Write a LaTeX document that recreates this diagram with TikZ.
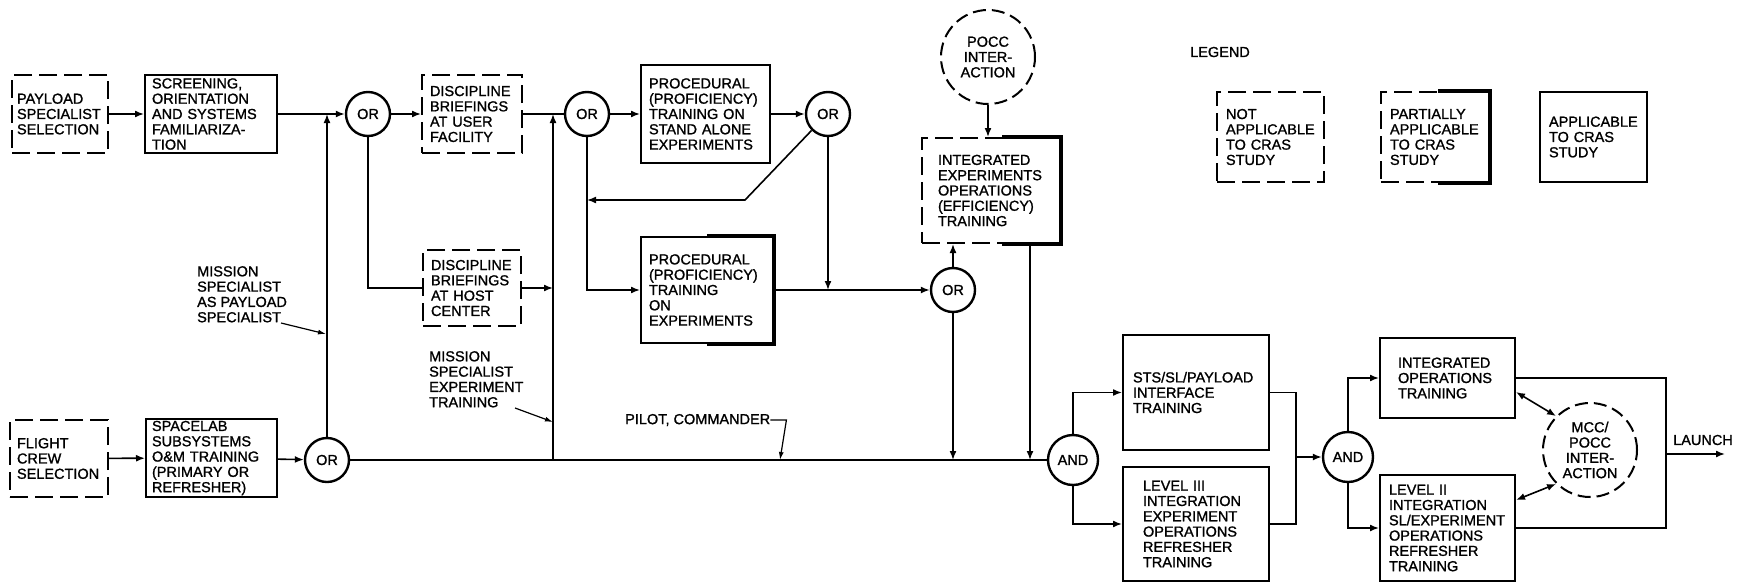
\documentclass[tikz,border=0pt]{standalone}
\usepackage{fontspec}
\setmainfont{Liberation Sans}[FakeBold=1.2]
\usetikzlibrary{arrows.meta, calc}
\newcommand{\boxfont}{\fontsize{14.5}{15.3}\selectfont}

\begin{document}
\begin{tikzpicture}[x=1pt, y=-1pt,
  every node/.style={font=\boxfont},
  solidbox/.style={draw, line width=2pt, align=left, inner ysep=1pt},
  dashbox/.style={solidbox, dash pattern=on 18pt off 7pt},
  gate/.style={circle, draw, line width=2.4pt, inner sep=0pt, minimum size=44pt},
  dashring/.style={circle, draw, line width=2pt, dash pattern=on 13pt off 6pt, inner sep=0pt, minimum size=94pt, align=center},
  heavy/.style={line width=4.5pt},
  line/.style={line width=1.6pt},
  flow/.style={line, -{Latex[length=9pt, width=7pt]}},
  dflow/.style={line, {Latex[length=9pt, width=7pt]}-{Latex[length=9pt, width=7pt]}},
  lead/.style={line width=1.2pt, -{Latex[length=8pt, width=5pt]}},
  lbl/.style={align=left, inner sep=0pt}
]
  \useasboundingbox (0,0) rectangle (1749,584);

  % top row
  \node[dashbox, text width=86pt, inner xsep=5pt, minimum height=78pt] (payload) at (60,114) {PAYLOAD\\SPECIALIST\\SELECTION};
  \node[solidbox, text width=118pt, inner xsep=7pt, minimum height=78pt] (screening) at (211,114) {SCREENING,\\ORIENTATION\\AND SYSTEMS\\FAMILIARIZA-\\TION};
  \node[gate] (or1) at (368,114) {OR};
  \node[dashbox, text width=84pt, inner xsep=8pt, minimum height=78pt] (discuser) at (472,114) {DISCIPLINE\\BRIEFINGS\\AT USER\\FACILITY};
  \node[gate] (or2) at (587,114) {OR};
  \node[solidbox, text width=113pt, inner xsep=8pt, minimum height=98pt] (procstand) at (705.5,114) {PROCEDURAL\\(PROFICIENCY)\\TRAINING ON\\STAND ALONE\\EXPERIMENTS};
  \node[gate] (or3) at (828,114) {OR};
  \node[dashring] (pocc) at (988,57) {POCC\\INTER-\\ACTION};
  \node[dashbox, text width=106pt, inner xsep=16pt, minimum height=105pt] (intexp) at (991,190.5) {INTEGRATED\\EXPERIMENTS\\OPERATIONS\\(EFFICIENCY)\\TRAINING};

  % middle row
  \node[dashbox, text width=82pt, inner xsep=8pt, minimum height=76pt] (dischost) at (472,288) {DISCIPLINE\\BRIEFINGS\\AT HOST\\CENTER};
  \node[solidbox, text width=116pt, inner xsep=8pt, minimum height=106pt] (procexp) at (707,290) {PROCEDURAL\\(PROFICIENCY)\\TRAINING\\ON\\EXPERIMENTS};
  \node[gate] (or4) at (953,290) {OR};

  % bottom row
  \node[dashbox, text width=84pt, inner xsep=7pt, minimum height=77pt] (flight) at (59,458.5) {FLIGHT\\CREW\\SELECTION};
  \node[solidbox, text width=119pt, inner xsep=6pt, minimum height=78pt] (spacelab) at (211.5,458) {SPACELAB\\SUBSYSTEMS\\O\&M TRAINING\\(PRIMARY OR\\REFRESHER)};
  \node[gate] (or5) at (327,460) {OR};
  \node[gate, minimum size=50pt] (and1) at (1073,460) {AND};
  \node[solidbox, text width=126pt, inner xsep=10pt, minimum height=115pt] (sts) at (1196,392.5) {STS/SL/PAYLOAD\\INTERFACE\\TRAINING};
  \node[solidbox, text width=106pt, inner xsep=20pt, minimum height=114pt] (lvlthree) at (1196,524) {LEVEL III\\INTEGRATION\\EXPERIMENT\\OPERATIONS\\REFRESHER\\TRAINING};
  \node[gate, minimum size=50pt] (and2) at (1348,457) {AND};
  \node[solidbox, text width=99pt, inner xsep=18pt, minimum height=80pt] (intops) at (1447.5,378) {INTEGRATED\\OPERATIONS\\TRAINING};
  \node[solidbox, text width=117pt, inner xsep=9pt, minimum height=106pt] (lvltwo) at (1447.5,528) {LEVEL II\\INTEGRATION\\SL/EXPERIMENT\\OPERATIONS\\REFRESHER\\TRAINING};
  \node[dashring] (mcc) at (1590,450) {MCC/\\POCC\\INTER-\\ACTION};
  \node[lbl, anchor=west] (launchlbl) at (1673,440) {LAUNCH};

  % legend
  \node[lbl, anchor=west] (legend) at (1190,52) {LEGEND};
  \node[dashbox, text width=89pt, inner xsep=9pt, minimum height=90pt] (lgnot) at (1270.5,137) {NOT\\APPLICABLE\\TO CRAS\\STUDY};
  \node[dashbox, text width=90pt, inner xsep=9pt, minimum height=90pt] (lgpart) at (1435,137) {PARTIALLY\\APPLICABLE\\TO CRAS\\STUDY};
  \node[solidbox, text width=89pt, inner xsep=9pt, minimum height=90pt] (lgapp) at (1593.5,137) {APPLICABLE\\TO CRAS\\STUDY\\[24pt]};

  % partially applicable edges
  \draw[heavy] ($(intexp.north west)!0.58!(intexp.north east)$) -- (intexp.north east) -- (intexp.south east) -- ($(intexp.south west)!0.58!(intexp.south east)$);
  \draw[heavy] ($(procexp.north west)!0.5!(procexp.north east)$) -- (procexp.north east) -- (procexp.south east) -- ($(procexp.south west)!0.5!(procexp.south east)$);
  \draw[heavy] ($(lgpart.north west)!0.53!(lgpart.north east)$) -- (lgpart.north east) -- (lgpart.south east) -- ($(lgpart.south west)!0.53!(lgpart.south east)$);

  % free ends
  \coordinate (mstap) at (553,460);
  \coordinate (fbk) at (745,200);
  \coordinate (iexout) at ([xshift=39pt]intexp.south);
  \coordinate (mrg) at (1296,457);
  \coordinate (brk) at (1666,454);
  \coordinate (launch) at (1725,454);
  \coordinate (mslfoot) at (281,323);
  \coordinate (msltip) at (326,334);
  \coordinate (mxlfoot) at (515,408);
  \coordinate (mxltip) at (553,422);
  \coordinate (pctip) at (780,460);

  % top flow
  \draw[flow] (payload) -- (screening);
  \draw[flow] (screening) -- (or1);
  \draw[flow] (or5.north) -- (or5.north |- screening.east);
  \draw[flow] (or1) -- (discuser);
  \draw[line] (discuser) -- (or2);
  \draw[flow] (mstap) -- (mstap |- or2.west);
  \draw[flow] (or2) -- (procstand);
  \draw[flow] (procstand) -- (or3);
  \draw[flow] (or3.south west) -- (fbk) -- (fbk -| or2.south);
  \draw[flow] (or3.south) -- (or3.south |- procexp.east);
  \draw[flow] (pocc.south) -- (pocc.south |- intexp.north);

  % middle flow
  \draw[line] (or1.south) |- (dischost.west);
  \draw[flow] (dischost.east) -- (dischost.east -| mstap);
  \draw[flow] (or2.south) |- (procexp.west);
  \draw[flow] (procexp.east) -- (or4.west);
  \draw[flow] (or4.north) -- (or4.north |- intexp.south);
  \draw[flow] (or4.south) -- (or4.south |- and1.west);
  \draw[flow] (iexout) -- (iexout |- and1.west);

  % bottom flow
  \draw[flow] (flight) -- (spacelab);
  \draw[flow] (spacelab) -- (or5);
  \draw[line] (or5.east) -- (and1.west);
  \draw[flow] (and1.north) |- (sts.west);
  \draw[flow] (and1.south) |- (lvlthree.west);
  \draw[line] (sts.east) -| (mrg) |- (lvlthree.east);
  \draw[flow] (mrg) -- (and2.west);
  \draw[flow] (and2.north) |- (intops.west);
  \draw[flow] (and2.south) |- (lvltwo.west);
  \draw[line] (intops.east) -| (brk) |- (lvltwo.east);
  \draw[flow] (brk) -- (launch);
  \draw[dflow] ([yshift=-14pt]intops.east) -- (mcc.135);
  \draw[dflow] ([yshift=28pt]lvltwo.east) -- (mcc.225);

  % crew path labels
  \node[lbl, anchor=north west] (mslabel) at (197,266) {MISSION\\SPECIALIST\\AS PAYLOAD\\SPECIALIST};
  \draw[lead] (mslfoot) -- (msltip);
  \node[lbl, anchor=north west] (mxlabel) at (429,351) {MISSION\\SPECIALIST\\EXPERIMENT\\TRAINING};
  \draw[lead] (mxlfoot) -- (mxltip);
  \node[lbl, anchor=west] (pclabel) at (625,420) {PILOT, COMMANDER};
  \draw[lead] (pclabel.east) -- ++(16,0) -- (pctip);
\end{tikzpicture}
\end{document}
